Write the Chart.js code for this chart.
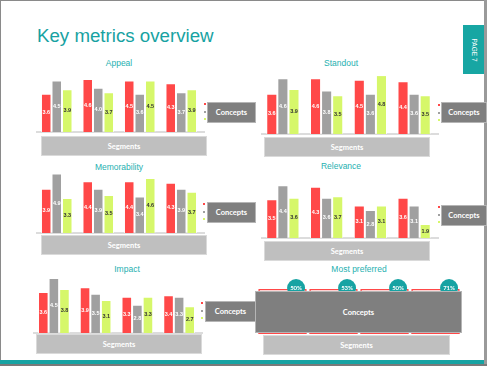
<!DOCTYPE html>
<html>
<head>
<meta charset="utf-8">
<script src="https://cdn.jsdelivr.net/npm/chart.js@4.4.1/dist/chart.umd.min.js"></script>
<style>
  html, body { margin: 0; padding: 0; background: #fff; }
  #slide {
    position: relative; width: 487px; height: 366px; overflow: hidden;
    background: #fff; font-family: "Liberation Sans", Arial, sans-serif;
  }
  .frame-top { position: absolute; left: 0; top: 0; width: 487px; height: 1px; background: #8a8a8a; }
  .frame-left { position: absolute; left: 0; top: 0; width: 1px; height: 366px; background: #8a8a8a; }
  .frame-right { position: absolute; left: 484px; top: 0; width: 3px; height: 366px; background: #9a9a9a; }
  .frame-teal { position: absolute; left: 0; top: 360px; width: 484px; height: 4px; background: #17a3a3; }
  .frame-bottom { position: absolute; left: 0; top: 364px; width: 487px; height: 2px; background: #7a7a7a; }
  h1 {
    position: absolute; left: 37px; top: 25px; margin: 0;
    font-weight: normal; font-size: 18.7px; color: #17a2a2; white-space: nowrap;
  }
  .tab {
    position: absolute; left: 463px; top: 25px; width: 21px; height: 49px; background: #17a6a3;
  }
  .tab span {
    position: absolute; left: 50%; top: 50%; transform: translate(-50%, -50%) rotate(90deg);
    color: #fff; font-size: 6.5px; white-space: nowrap;
  }
  .ctitle {
    position: absolute; width: 120px; margin-left: -60px; text-align: center;
    font-size: 8.5px; color: #25b0b0; line-height: 10px;
  }
  .chart { position: absolute; }
  .box {
    position: absolute; box-sizing: border-box; display: flex; align-items: center; justify-content: center;
    color: #fff; font-family: Lato, "Open Sans", sans-serif; font-weight: bold; font-size: 7.5px;
  }
  .concepts { background: #7f7f7f; border: 1px solid #b5b5b5; }
  .segments { background: #bfbfbf; border: 1px solid #dadada; }
  .dot { position: absolute; width: 2px; height: 2px; }
</style>
</head>
<body>
<div id="slide">
  <div class="frame-top"></div>
  <div class="frame-left"></div>
  <div class="frame-right"></div>
  <div class="frame-teal"></div>
  <div class="frame-bottom"></div>
  <h1>Key metrics overview</h1>
  <div class="tab"><span>PAGE 7</span></div>
</div>
<script>
// segments on the x axis, three concepts per segment
const segments = ['Segment 1', 'Segment 2', 'Segment 3', 'Segment 4'];
const concepts = ['Concept 1', 'Concept 2', 'Concept 3'];

const appeal1 = [3.6, 4.6, 4.5, 4.3];
const appeal2 = [4.5, 4.0, 3.6, 3.7];
const appeal3 = [3.9, 3.7, 4.5, 3.9];

const standout1 = [3.6, 4.6, 4.5, 4.4];
const standout2 = [4.6, 3.8, 3.6, 3.6];
const standout3 = [3.9, 3.5, 4.8, 3.5];

const memorability1 = [3.9, 4.4, 4.4, 4.3];
const memorability2 = [4.9, 3.9, 3.4, 3.9];
const memorability3 = [3.3, 3.5, 4.6, 3.7];

const relevance1 = [3.5, 4.3, 3.1, 3.6];
const relevance2 = [4.4, 3.6, 2.8, 3.1];
const relevance3 = [3.6, 3.7, 3.1, 1.9];

const impact1 = [3.6, 3.9, 3.3, 3.4];
const impact2 = [4.5, 3.5, 2.8, 3.3];
const impact3 = [3.8, 3.1, 3.3, 2.7];

// most preferred share (%) and the remaining share
const preferred = [50, 53, 50, 71];
const preferredRest = [50, 47, 50, 29];

const RED = '#ff4848';
const GREY = '#a0a0a0';
const LIME = '#d6f76a';
const TEAL = '#17a3a3';

const slide = document.getElementById('slide');

function addEl(cls, css, text) {
  const d = document.createElement('div');
  d.className = cls;
  Object.assign(d.style, css);
  if (text) d.textContent = text;
  slide.appendChild(d);
  return d;
}

// light grey base line under the bars
const baseLine = {
  id: 'baseLine',
  beforeDatasetsDraw(chart) {
    const { ctx, chartArea } = chart;
    ctx.save();
    ctx.strokeStyle = '#dcdcdc';
    ctx.lineWidth = 2;
    ctx.beginPath();
    ctx.moveTo(chartArea.left, chartArea.bottom);
    ctx.lineTo(chartArea.right + 3, chartArea.bottom);
    ctx.stroke();
    ctx.restore();
  }
};

const valueLabels = {
  id: 'valueLabels',
  afterDatasetsDraw(chart) {
    const ctx = chart.ctx;
    ctx.save();
    ctx.font = 'bold 5.5px "Liberation Sans", Arial, sans-serif';
    ctx.textAlign = 'center';
    ctx.textBaseline = 'middle';
    chart.data.datasets.forEach((ds, i) => {
      chart.getDatasetMeta(i).data.forEach((bar, j) => {
        ctx.fillStyle = ds.backgroundColor === LIME ? '#333' : '#fff';
        ctx.fillText(ds.data[j].toFixed(1), bar.x, (bar.y + bar.base) / 2);
      });
    });
    ctx.restore();
  }
};

function metricChart(title, sets, pos) {
  addEl('ctitle', { left: pos.tx + 'px', top: pos.ty + 'px' }, title);
  const wrap = addEl('chart', {
    left: pos.x + 'px', top: pos.y + 'px', width: (pos.w + 4) + 'px', height: (pos.h + 1) + 'px'
  });
  const cv = document.createElement('canvas');
  wrap.appendChild(cv);
  const colours = [RED, GREY, LIME];
  new Chart(cv, {
    type: 'bar',
    data: {
      labels: segments,
      datasets: sets.map((d, i) => ({
        label: concepts[i],
        data: d,
        base: 1,
        backgroundColor: colours[i],
        borderColor: 'rgba(255,255,255,0.7)',
        borderWidth: 1,
        categoryPercentage: 0.76,
        barPercentage: 1
      }))
    },
    options: {
      responsive: true,
      maintainAspectRatio: false,
      animation: false,
      layout: { padding: { left: 0, top: 0, right: 4, bottom: 1 } },
      plugins: { legend: { display: false }, tooltip: { enabled: false } },
      scales: {
        x: { display: false },
        y: { display: false, beginAtZero: false, min: 1, max: 5 }
      }
    },
    plugins: [baseLine, valueLabels]
  });
  // legend dots next to the Concepts box
  colours.forEach((c, i) => {
    addEl('dot', { left: pos.lx + 'px', top: (pos.ly + i * 7.5) + 'px', background: c });
  });
  addEl('box concepts', { left: pos.cx + 'px', top: pos.cy + 'px', width: pos.cw + 'px', height: '21px' }, 'Concepts');
  addEl('box segments', { left: pos.sx + 'px', top: pos.sy + 'px', width: '166px', height: '20px' }, 'Segments');
}

metricChart('Appeal', [appeal1, appeal2, appeal3],
  { tx: 119, ty: 58, x: 36, y: 73, w: 166, h: 59, lx: 204, ly: 103, cx: 207, cy: 102, cw: 49, sx: 41, sy: 136 });
metricChart('Standout', [standout1, standout2, standout3],
  { tx: 341, ty: 58, x: 261, y: 72, w: 175, h: 62, lx: 438, ly: 104, cx: 441, cy: 102, cw: 46, sx: 264, sy: 137 });
metricChart('Memorability', [memorability1, memorability2, memorability3],
  { tx: 119, ty: 162, x: 36, y: 172, w: 166, h: 61, lx: 203, ly: 203, cx: 207, cy: 202, cw: 49, sx: 41, sy: 235 });
metricChart('Relevance', [relevance1, relevance2, relevance3],
  { tx: 341, ty: 161, x: 261, y: 176, w: 175, h: 62, lx: 438, ly: 206, cx: 441, cy: 205, cw: 46, sx: 264, sy: 241 });
metricChart('Impact', [impact1, impact2, impact3],
  { tx: 127, ty: 264, x: 33, y: 270, w: 167, h: 63, lx: 201, ly: 302, cx: 205, cy: 301, cw: 51, sx: 36, sy: 334 });

// Most preferred: bars capped with a teal percentage badge
addEl('ctitle', { left: '359px', top: '264px' }, 'Most preferred');
const mpWrap = addEl('chart', { left: '255px', top: '278px', width: '210px', height: '56px' });
const mpCanvas = document.createElement('canvas');
mpWrap.appendChild(mpCanvas);

const badges = {
  id: 'badges',
  afterDatasetsDraw(chart) {
    const ctx = chart.ctx;
    const top = chart.getDatasetMeta(1).data;
    ctx.save();
    top.forEach((bar, j) => {
      const cx = bar.x + bar.width * 0.28;
      const cy = bar.y - 1;
      ctx.beginPath();
      ctx.arc(cx, cy, 9, 0, Math.PI * 2);
      ctx.fillStyle = TEAL;
      ctx.fill();
      ctx.fillStyle = '#fff';
      ctx.font = 'bold 6px Lato, "Open Sans", sans-serif';
      ctx.textAlign = 'center';
      ctx.textBaseline = 'middle';
      ctx.fillText(preferred[j] + '%', cx, cy);
    });
    ctx.restore();
  }
};

new Chart(mpCanvas, {
  type: 'bar',
  data: {
    labels: segments,
    datasets: [
      { label: 'Most preferred', data: preferred, backgroundColor: RED, borderWidth: 0,
        categoryPercentage: 0.95, barPercentage: 1 },
      { label: 'Other', data: preferredRest, backgroundColor: '#fff', borderColor: RED, borderWidth: 1.5,
        categoryPercentage: 0.95, barPercentage: 1 }
    ]
  },
  options: {
    responsive: true,
    maintainAspectRatio: false,
    animation: false,
    layout: { padding: { top: 11, left: 2, right: 4 } },
    plugins: { legend: { display: false }, tooltip: { enabled: false } },
    scales: {
      x: { stacked: true, display: false },
      y: { stacked: true, display: false, min: 0, max: 100 }
    }
  },
  plugins: [badges]
});

addEl('box concepts', { left: '255px', top: '291px', width: '207px', height: '42px', zIndex: 2 }, 'Concepts');
addEl('box segments', { left: '263px', top: '335px', width: '187px', height: '20px' }, 'Segments');
</script>
</body>
</html>
